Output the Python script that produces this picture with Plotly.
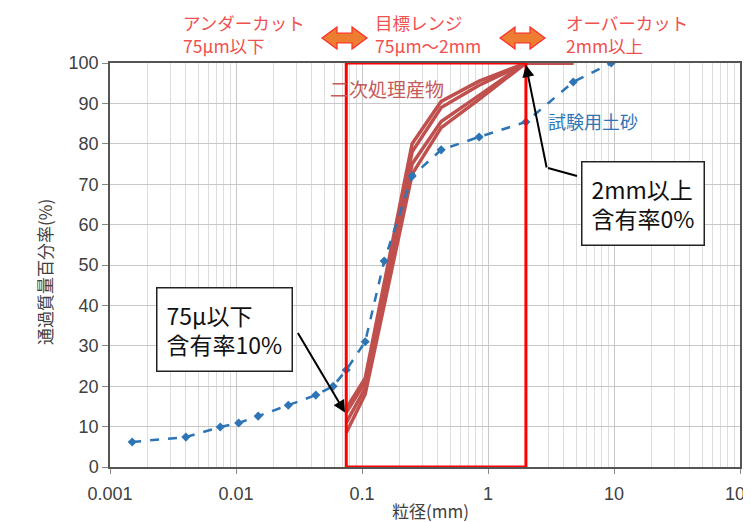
import numpy as np
import plotly.graph_objects as go

# ---------------- data ----------------
soil_size = [0.0015, 0.004, 0.0075, 0.0105, 0.015, 0.026, 0.043, 0.059,
             0.075, 0.106, 0.15, 0.25, 0.425, 0.85, 2.0, 4.75, 9.5]
soil_pass = [6.2, 7.4, 9.9, 10.9, 12.6, 15.3, 17.8, 20.0,
             24.0, 31.0, 51.0, 72.0, 78.5, 81.7, 85.4, 95.3, 100.0]

prod_size = [0.075, 0.106, 0.25, 0.425, 0.85, 2.0, 4.75]
prod_1 = [14.5, 22.0, 80.0, 90.5, 95.5, 100.0, 100.0]
prod_2 = [13.5, 21.0, 78.0, 89.0, 94.5, 100.0, 100.0]
prod_3 = [11.0, 19.5, 75.0, 85.5, 92.0, 100.0, 100.0]
prod_4 = [8.5, 18.0, 72.5, 84.0, 91.0, 100.0, 100.0]

target_range = [0.075, 2.0]
pass_range = [0, 100]

x_tickvals = [0.001, 0.01, 0.1, 1, 10, 100]
x_ticktext = ["0.001", "0.01", "0.1", "1", "10", "100"]
y_tickvals = list(range(0, 101, 10))

# ---------------- layout geometry (page pixels) ----------------
OFF = 8                      # default page body margin
W, H = 751 - OFF, 522 - OFF
PL, PR, PT, PB = 110, 740, 63, 467   # plot area in page pixels
L, T = PL - OFF, PT - OFF
R, B = W - (PR - OFF), H - (PB - OFF)
PW, PH = PR - PL, PB - PT

def px(xp):
    return (xp - PL) / PW

def py(yp):
    return (PB - yp) / PH

RED_CURVE = "#C0504D"
BLUE = "#2E75B6"
LABEL_RED = "#F0504F"
JP = "Noto Sans CJK JP"
LAT = "Liberation Sans"

fig = go.Figure()

for ys in [prod_4, prod_3, prod_2, prod_1]:
    fig.add_trace(go.Scatter(x=prod_size, y=ys, mode="lines",
                             line=dict(color=RED_CURVE, width=3.5),
                             showlegend=False, cliponaxis=True))

fig.add_trace(go.Scatter(x=soil_size, y=soil_pass, mode="lines+markers",
                         line=dict(color=BLUE, width=2.5, dash="dash"),
                         marker=dict(symbol="diamond", size=7, color=BLUE),
                         showlegend=False))

# target range rectangle
rx = [target_range[0], target_range[0], target_range[1], target_range[1], target_range[0]]
ry = [pass_range[0], pass_range[1], pass_range[1], pass_range[0], pass_range[0]]
fig.add_trace(go.Scatter(x=rx, y=ry, mode="lines",
                         line=dict(color="#FF0000", width=3),
                         showlegend=False, cliponaxis=False))

shapes = []
def dbl_arrow(x0, x1, yc):
    hw = 11
    sw = 5
    hl = 15
    pts = [(x0, yc), (x0 + hl, yc - hw), (x0 + hl, yc - sw), (x1 - hl, yc - sw),
           (x1 - hl, yc - hw), (x1, yc), (x1 - hl, yc + hw), (x1 - hl, yc + sw),
           (x0 + hl, yc + sw), (x0 + hl, yc + hw)]
    path = "M " + " L ".join(f"{px(a):.5f},{py(b):.5f}" for a, b in pts) + " Z"
    return dict(type="path", xref="paper", yref="paper", path=path,
                fillcolor="#ED7D31", line=dict(color="#FF2A2A", width=1.2), layer="above")

shapes.append(dbl_arrow(322, 367, 38))
shapes.append(dbl_arrow(500, 545, 38))
shapes.append(dict(type="line", xref="paper", yref="paper",
                   x0=px(548), y0=py(168), x1=px(577), y1=py(176),
                   line=dict(color="black", width=2), layer="above"))

annotations = []
def txt(s, xp, yp, color, size, font=JP, anchor="left", **kw):
    annotations.append(dict(text=s, x=px(xp), y=py(yp), xref="paper", yref="paper",
                            showarrow=False, xanchor=anchor, yanchor="middle",
                            font=dict(family=font, size=size, color=color), **kw))

txt("アンダーカット<br>75μm以下", 181, 34, LABEL_RED, 17.5, align="left")
txt("目標レンジ<br>75μm～2mm", 373, 34, LABEL_RED, 17.5, align="left")
txt("オーバーカット<br>2mm以上", 564, 34, LABEL_RED, 17.5, align="left")
txt("二次処理産物", 328, 88, "#C55A5A", 19)
txt("試験用土砂", 546, 121, BLUE, 18)

for s, xc, yc in [("75μ以下<br>含有率10%", 224, 330), ("2mm以上<br>含有率0%", 643, 203)]:
    annotations.append(dict(text=s, x=px(xc), y=py(yc), xref="paper", yref="paper",
                            showarrow=False, xanchor="center", yanchor="middle",
                            align="left", bgcolor="white", bordercolor="#222222",
                            borderwidth=1.5, borderpad=9,
                            font=dict(family=JP, size=23, color="#111111")))

annotations.append(dict(x=np.log10(0.0733), y=13.5, xref="x", yref="y", text="",
                        showarrow=True, ax=-48, ay=-81, arrowhead=2, arrowsize=1.2,
                        arrowwidth=2, arrowcolor="black"))
annotations.append(dict(x=np.log10(2.0), y=99.5, xref="x", yref="y", text="",
                        showarrow=True, ax=21, ay=104, arrowhead=2, arrowsize=1.2,
                        arrowwidth=2, arrowcolor="black"))

annotations.append(dict(text="通過質量百分率(%)", x=px(44), y=py(272), xref="paper", yref="paper",
                        showarrow=False, textangle=-90, xanchor="center", yanchor="middle",
                        font=dict(family=JP, size=17, color="#404040")))
annotations.append(dict(text="粒径(mm)", x=px(430), y=py(510), xref="paper", yref="paper",
                        showarrow=False, xanchor="center", yanchor="middle",
                        font=dict(family=JP, size=17, color="#404040")))

fig.update_layout(
    width=W, height=H, margin=dict(l=L, r=R, t=T, b=B, autoexpand=False),
    paper_bgcolor="white", plot_bgcolor="white",
    shapes=shapes, annotations=annotations, showlegend=False,
)
fig.update_xaxes(type="log", range=[-3, 2], tickvals=x_tickvals, ticktext=x_ticktext,
                 showgrid=True, gridcolor="#C8C8C8", gridwidth=1,
                 minor=dict(showgrid=True, gridcolor="#DDDDDD", dtick="D1", ticks=""),
                 showline=True, linecolor="#555555", linewidth=1.5, mirror=True,
                 ticks="outside", ticklen=5, tickcolor="#888888", ticklabelstandoff=5,
                 ticklabeloverflow="allow",
                 tickfont=dict(family=LAT, size=18, color="#404040"), zeroline=False)
fig.update_yaxes(range=[0, 100], tickvals=y_tickvals,
                 showgrid=True, gridcolor="#C8C8C8", gridwidth=1,
                 showline=True, linecolor="#555555", linewidth=1.5, mirror=True,
                 ticks="outside", ticklen=6, tickcolor="#888888",
                 tickfont=dict(family=LAT, size=18, color="#404040"), zeroline=False)

fig.write_html("out.html")
